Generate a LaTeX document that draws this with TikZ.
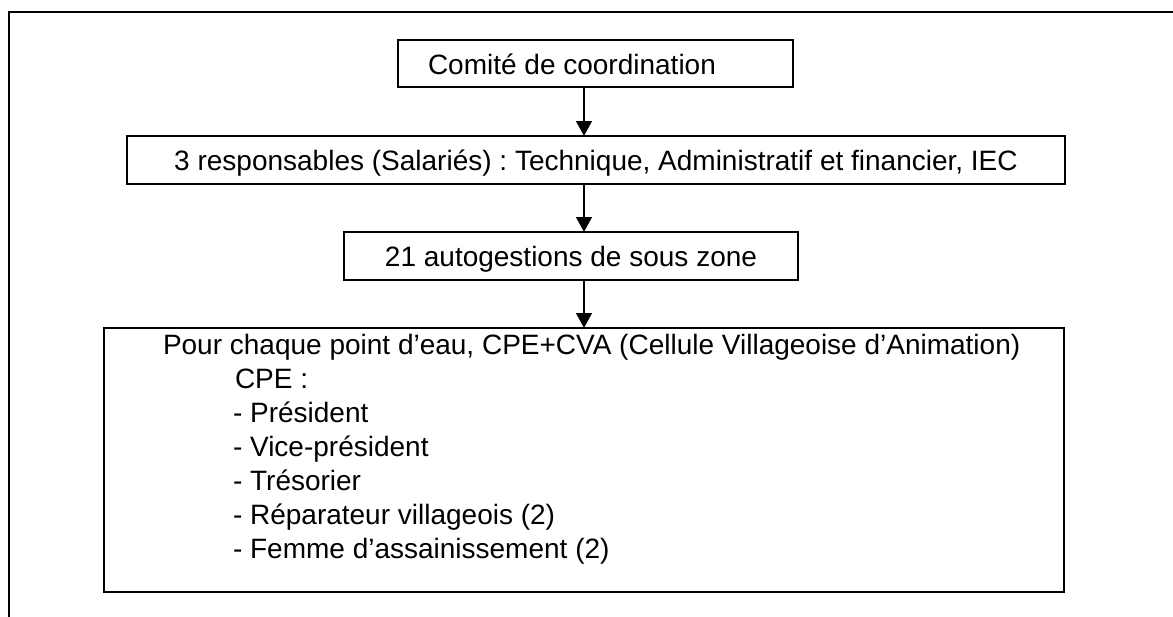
\documentclass[tikz,border=0pt]{standalone}
\usepackage{fontspec}
\setmainfont{Liberation Sans}
\frenchspacing
\usetikzlibrary{arrows.meta}
\begin{document}
\begin{tikzpicture}[x=1pt,y=-1pt,
  every node/.style={inner sep=0pt,outer sep=0pt},
  txt/.style={font=\fontsize{28}{34}\selectfont},
  orgbox/.style={draw,line width=1.3pt,rectangle,txt,text height=20pt,text depth=0pt},
  link/.style={line width=1.3pt,-{Triangle[length=15pt,width=16pt]}},
  frame/.style={line width=2pt}]
  % page area
  \useasboundingbox (0,0) rectangle (1173,616);
  % outer frame, cut by the page edge on the right and at the bottom
  \draw[frame] (9,640) -- (9,12) -- (1200,12);
  % boxes
  \node[orgbox,minimum width=395pt,minimum height=47pt] (comite) at (595.5,63.5) {};
  \node[txt,anchor=base west] (comitetxt) at (428,74) {Comité de coordination};
  \node[orgbox,minimum width=938pt,minimum height=48pt] (resp) at (596,160)
    {3 responsables (Salariés) : Technique, Administratif et financier, IEC};
  \node[orgbox,minimum width=454pt,minimum height=48pt] (auto) at (571,256)
    {21 autogestions de sous zone};
  \node[draw,line width=1.3pt,rectangle,minimum width=960pt,minimum height=264pt] (cpe) at (584,460) {};
  \node[txt,anchor=base west] (cpehead) at (163,354)
    {Pour chaque point d’eau, CPE+CVA (Cellule Villageoise d’Animation)};
  % the list's base anchor sits on its last line
  \node[txt,anchor=base west,align=left] (cpelist) at (233,558)
    {\hspace*{2pt}CPE :\\- Président\\- Vice-président\\- Trésorier\\- Réparateur villageois (2)\\- Femme d’assainissement (2)};
  % connectors
  \draw[link] (comite.south -| 584,0) -- (resp.north -| 584,0);
  \draw[link] (resp.south -| 584,0) -- (auto.north -| 584,0);
  \draw[link] (auto.south -| 584,0) -- (cpe.north -| 584,0);
\end{tikzpicture}
\end{document}
